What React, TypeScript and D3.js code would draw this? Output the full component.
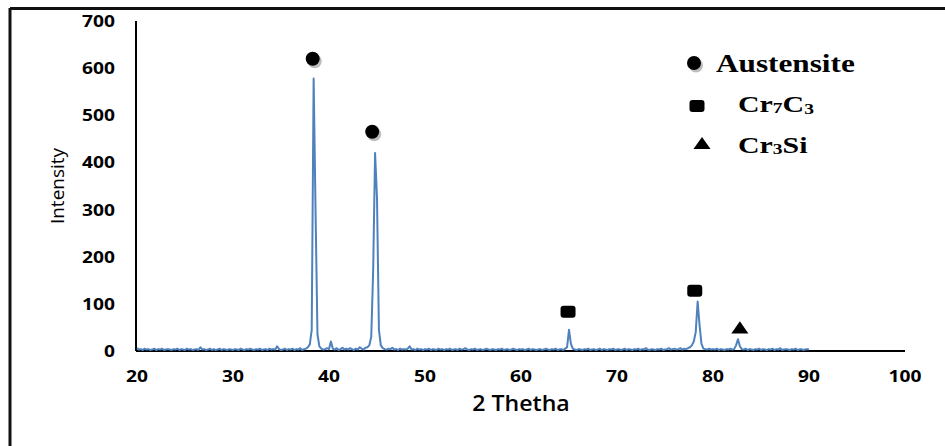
import React from 'react';
import * as d3 from 'd3';

// XRD scan, 2θ from 20 to 90 in 0.2° steps
const thetaStart = 20;
const thetaStep = 0.2;
const intensity = [
  6, 3, 4, 2, 5, 3, 4, 2, 3, 5,
  2, 4, 3, 5, 2, 3, 4, 3, 2, 4,
  3, 5, 2, 4, 3, 2, 5, 3, 4, 2,
  3, 4, 2, 8, 3, 4, 2, 3, 5, 2,
  4, 2, 3, 5, 2, 4, 3, 2, 4, 3,
  2, 4, 3, 2, 5, 3, 2, 4, 3, 5,
  3, 2, 4, 3, 5, 2, 3, 4, 2, 5,
  3, 4, 3, 10, 4, 2, 3, 5, 2, 4,
  3, 5, 2, 4, 3, 6, 2, 4, 5, 8,
  14, 45, 578, 295, 35, 10, 5, 3, 4, 6,
  4, 20, 5, 3, 6, 2, 4, 7, 3, 5,
  3, 6, 4, 2, 5, 3, 8, 5, 3, 7,
  8, 12, 30, 170, 420, 325, 45, 12, 6, 4,
  3, 5, 4, 7, 3, 4, 2, 5, 3, 4,
  3, 5, 10, 3, 4, 2, 5, 3, 4, 2,
  4, 3, 5, 2, 4, 3, 2, 5, 3, 4,
  2, 4, 3, 5, 2, 3, 4, 2, 5, 3,
  4, 6, 3, 2, 4, 3, 5, 2, 3, 4,
  2, 3, 5, 3, 2, 4, 3, 2, 4, 3,
  5, 2, 3, 4, 2, 3, 5, 3, 2, 4,
  3, 4, 2, 3, 5, 2, 4, 3, 2, 3,
  4, 2, 3, 5, 3, 2, 4, 3, 5, 2,
  3, 4, 2, 5, 8, 45, 15, 5, 3, 2,
  4, 3, 2, 4, 3, 5, 2, 3, 4, 2,
  3, 5, 2, 4, 3, 2, 4, 3, 5, 2,
  3, 4, 2, 3, 5, 2, 4, 3, 2, 4,
  3, 5, 2, 4, 3, 6, 3, 2, 4, 3,
  2, 4, 3, 5, 2, 3, 4, 6, 3, 4,
  5, 3, 4, 6, 3, 5, 4, 6, 8, 12,
  20, 40, 105, 55, 15, 5, 4, 3, 5, 3,
  4, 3, 5, 2, 4, 3, 2, 4, 3, 5,
  3, 4, 12, 25, 10, 4, 3, 5, 2, 4,
  3, 2, 4, 3, 5, 2, 4, 3, 2, 4,
  3, 5, 2, 4, 3, 6, 2, 3, 4, 3,
  2, 4, 3, 5, 2, 3, 4, 2, 3, 4,
  3,
];

// phase markers placed over the peaks
const markerShape = ['circle', 'circle', 'square', 'square', 'triangle'];
const markerTheta = [38.3, 44.5, 64.9, 78.1, 82.8];
const markerValue = [620, 465, 83, 128, 48];

const xTicks = [20, 30, 40, 50, 60, 70, 80, 90, 100];
const yTicks = [0, 100, 200, 300, 400, 500, 600, 700];

const legendShape = ['circle', 'square', 'triangle'];

const W = 945;
const H = 446;
const STRETCH = 1.2;

const Txt = ({ x, y, anchor = 'start', size, weight = 'normal', family, sx = STRETCH, children }: any) => (
  <g transform={`translate(${x},${y}) scale(${sx},1)`}>
    <text textAnchor={anchor} fontSize={size} fontWeight={weight} fontFamily={family} fill="#000">
      {children}
    </text>
  </g>
);

const Marker = ({ shape, cx, cy }: any) => {
  if (shape === 'circle') {
    return (
      <g>
        <circle cx={cx + 2} cy={cy + 2.5} r={7} fill="#bdbdbd" />
        <circle cx={cx} cy={cy} r={7} fill="#000" />
      </g>
    );
  }
  if (shape === 'square') {
    return <rect x={cx - 7.5} y={cy - 6} width={15} height={12} rx={3} fill="#000" />;
  }
  const tri = d3.symbol().type(d3.symbolTriangle).size(95)();
  return <path d={tri || ''} transform={`translate(${cx},${cy + 1}) scale(1.15,0.95)`} fill="#000" />;
};

const App = () => {
  const x = d3.scaleLinear().domain([20, 100]).range([137, 905]);
  const y = d3.scaleLinear().domain([0, 700]).range([351, 21]);

  const points = intensity.map((v, i) => [thetaStart + i * thetaStep, v] as [number, number]);
  const line = d3.line<[number, number]>()
    .x(d => x(d[0]))
    .y(d => y(d[1]));

  const tickFont = "'Open Sans', 'DejaVu Sans', sans-serif";
  const serif = "'Liberation Serif', 'Times New Roman', serif";

  return (
    <svg width={W} height={H} style={{ position: 'absolute', left: 0, top: 0, background: '#fff' }}>
      <rect x={0} y={0} width={W} height={H} fill="#fff" />
      {/* outer frame */}
      <line x1={10} y1={8.5} x2={W} y2={8.5} stroke="#111" strokeWidth={3} />
      <line x1={10} y1={8} x2={10} y2={H} stroke="#111" strokeWidth={3} />

      {/* axes */}
      <line x1={x(20) - 1} y1={y(0)} x2={x(100)} y2={y(0)} stroke="#000" strokeWidth={2} />
      <line x1={x(20) - 1} y1={y(0)} x2={x(20) - 1} y2={y(700)} stroke="#000" strokeWidth={2} />

      {yTicks.map(t => (
        <Txt key={t} x={115} y={y(t) + 6} anchor="end" size={16} weight="bold" family={tickFont}>
          {t}
        </Txt>
      ))}
      {xTicks.map(t => (
        <Txt key={t} x={x(t)} y={382} anchor="middle" size={16} weight="bold" family={tickFont}>
          {t}
        </Txt>
      ))}

      <g transform="translate(64,186) rotate(-90)">
        <text textAnchor="middle" fontSize={19} fontWeight={500} fontFamily={tickFont} fill="#000">Intensity</text>
      </g>
      <Txt x={521} y={411} anchor="middle" size={21} weight={600} family={tickFont} sx={1.1}>
        2 Thetha
      </Txt>

      {/* pattern */}
      <path d={line(points) || ''} fill="none" stroke="#4f81bd" strokeWidth={2} strokeLinejoin="round" />

      {markerShape.map((s, i) => (
        <Marker key={i} shape={s} cx={x(markerTheta[i])} cy={y(markerValue[i])} />
      ))}

      {/* legend */}
      {legendShape.map((s, i) => (
        <Marker key={s} shape={s} cx={[694, 697, 702][i]} cy={[63, 106, 144][i]} />
      ))}
      <Txt x={716} y={72} size={25} weight="bold" family={serif} sx={1.25}>
        Austensite
      </Txt>
      <Txt x={738} y={112} size={23} weight="bold" family={serif} sx={1.3}>
        Cr<tspan fontSize={15} dy={1}>7</tspan><tspan dy={-1}>C</tspan><tspan fontSize={15} dy={2}>3</tspan>
      </Txt>
      <Txt x={738} y={153} size={23} weight="bold" family={serif} sx={1.3}>
        Cr<tspan fontSize={15} dy={1}>3</tspan><tspan dy={-1}>Si</tspan>
      </Txt>
    </svg>
  );
};

export default App;
